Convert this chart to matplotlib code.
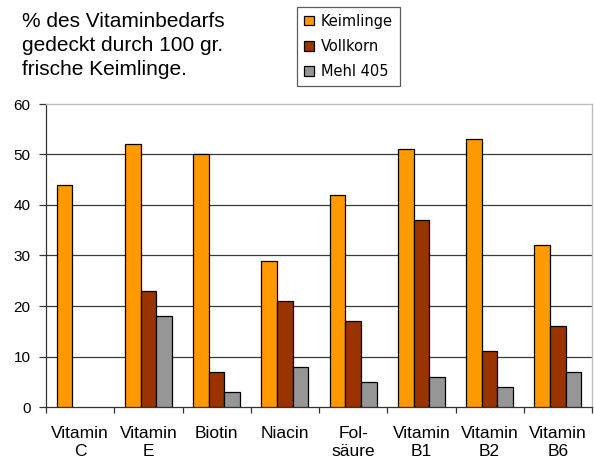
import matplotlib
matplotlib.use("Agg")
import matplotlib.pyplot as plt
import numpy as np

categories = ["Vitamin\nC", "Vitamin\nE", "Biotin", "Niacin", "Fol-\nsäure",
              "Vitamin\nB1", "Vitamin\nB2", "Vitamin\nB6"]
keimlinge = [44, 52, 50, 29, 42, 51, 53, 32]
vollkorn = [0, 23, 7, 21, 17, 37, 11, 16]
mehl405 = [0, 18, 3, 8, 5, 6, 4, 7]
series_names = ["Keimlinge", "Vollkorn", "Mehl 405"]
colors = ["#FF9900", "#993300", "#969696"]
yticks = [0, 10, 20, 30, 40, 50, 60]
title_text = "% des Vitaminbedarfs\ngedeckt durch 100 gr.\nfrische Keimlinge."

plt.rcParams['font.family'] = ['Liberation Sans', 'DejaVu Sans']

fig = plt.figure(figsize=(5.94, 4.61), dpi=100)
ax = fig.add_axes([46/594, 1-407/461, (592-46)/594, (407-104)/461])

x = np.arange(len(categories))
w = 0.23
series = [keimlinge, vollkorn, mehl405]
handles = []
for i, (vals, name, c) in enumerate(zip(series, series_names, colors)):
    vals_arr = np.array(vals, dtype=float)
    mask = vals_arr > 0
    b = ax.bar(x[mask] + (i - 1) * w, vals_arr[mask], width=w, color=c,
               edgecolor="black", linewidth=0.9, zorder=3, label=name)
    handles.append(b)

ax.set_xlim(-0.5, len(categories) - 0.5)
ax.set_ylim(yticks[0], yticks[-1])
ax.set_yticks(yticks)
for y in yticks[1:-1]:
    ax.axhline(y, color="#3a3a3a", linewidth=0.9, zorder=1)

ax.set_xticks(x)
ax.set_xticklabels(categories, fontsize=12.5, linespacing=1.25)
ax.set_xticks(np.arange(len(categories) + 1) - 0.5, minor=True)
ax.tick_params(axis="x", which="major", length=0, pad=14)
ax.tick_params(axis="x", which="minor", length=4, width=0.9, color="#333333", direction="out")
ax.tick_params(axis="y", length=5, width=0.9, color="#333333", labelsize=11, pad=6)

for s in ["left", "bottom"]:
    ax.spines[s].set_color("#333333")
    ax.spines[s].set_linewidth(0.9)
for s in ["top", "right"]:
    ax.spines[s].set_color("#bfbfbf")
    ax.spines[s].set_linewidth(1.0)

fig.text(22/594, 1-12/461, title_text, fontsize=15, va="top", ha="left",
         linespacing=1.33)

leg = fig.legend(handles=handles, labels=series_names,
                 loc="upper left", bbox_to_anchor=(297/594, 1-7/461),
                 prop={'family': ['DejaVu Sans'], 'size': 10.5},
                 frameon=True, fancybox=False, shadow=False,
                 handlelength=0.7, handleheight=0.65, handletextpad=0.5,
                 labelspacing=0.7, borderpad=0.45, borderaxespad=0)
leg.get_frame().set_edgecolor("#333333")
leg.get_frame().set_linewidth(0.9)

fig.savefig("out.png", dpi=100)
